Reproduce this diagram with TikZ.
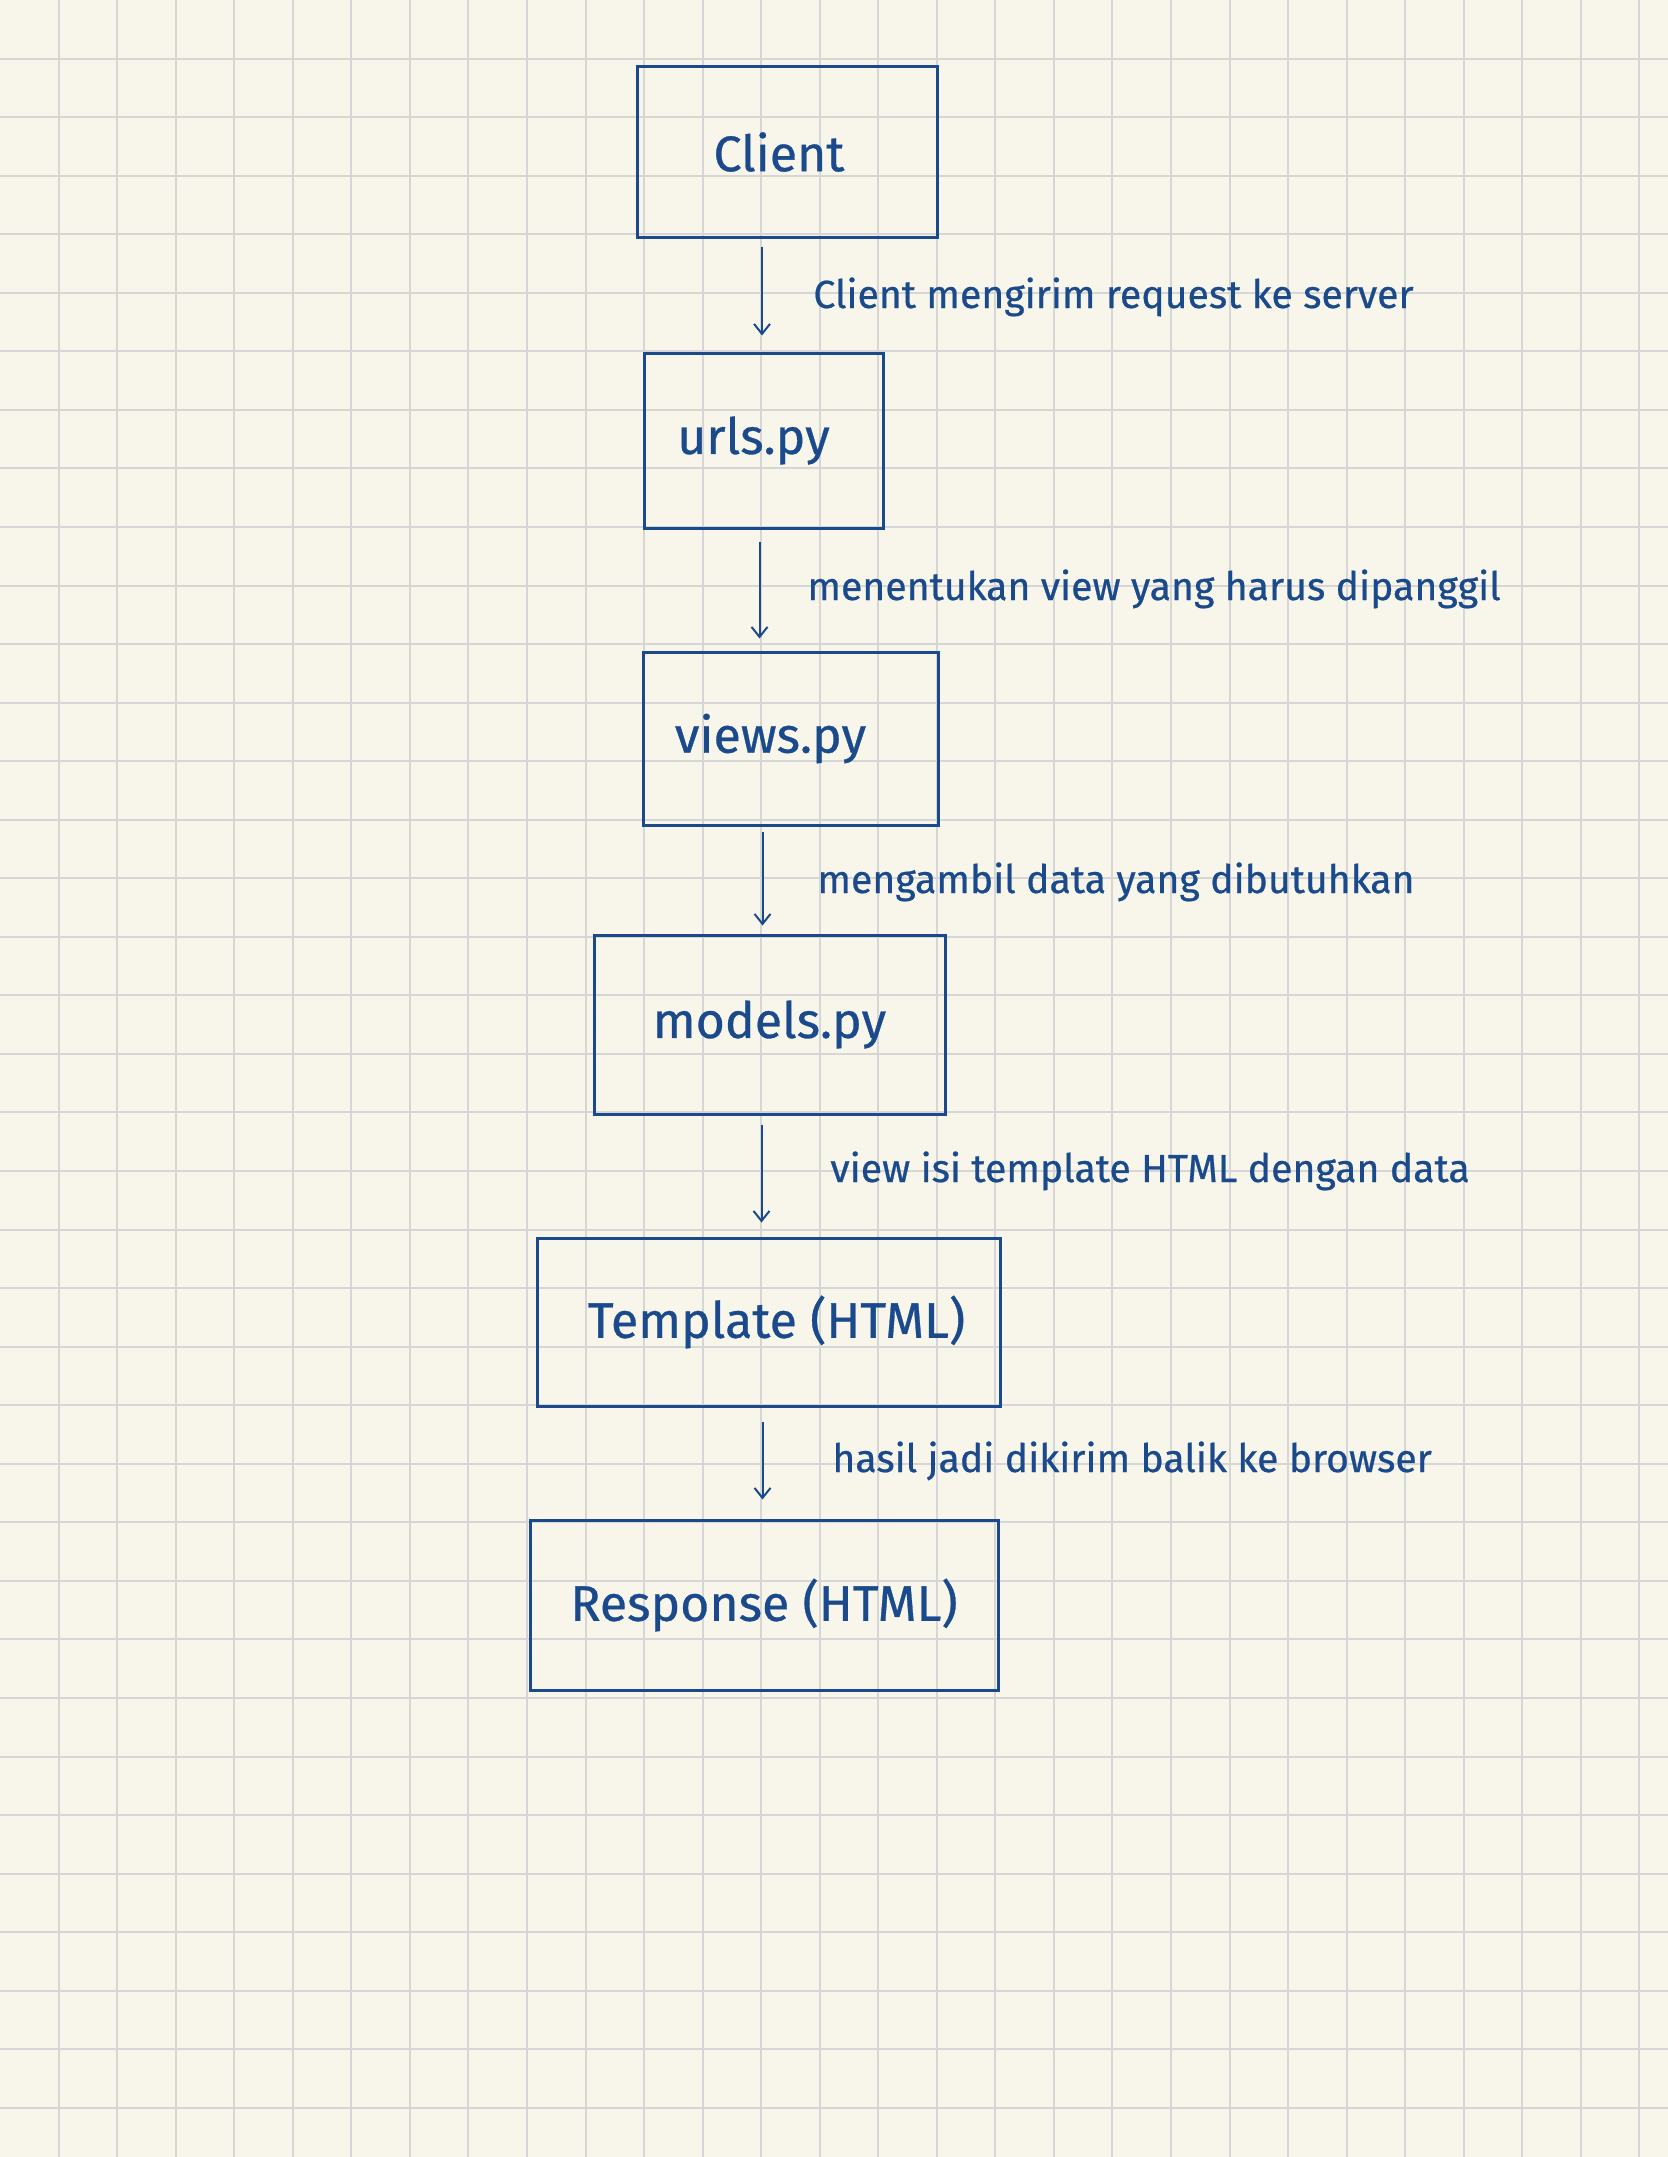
\documentclass[tikz,border=0pt]{standalone}
\usepackage{fontspec}
\setmainfont{Fira Sans}[FakeBold=0.6]
\usetikzlibrary{arrows.meta}
\definecolor{paper}{HTML}{F8F6EB}
\definecolor{gridc}{HTML}{D6D6D6}
\definecolor{ink}{HTML}{1A4A8C}
\tikzset{
  gridline/.style={draw=gridc, line width=1pt},
  flowbox/.style={draw=ink, line width=1.5pt, rectangle, inner sep=0pt, text=ink, font=\fontsize{25}{28}\selectfont},
  flowarrow/.style={draw=ink, line width=1pt, -{Straight Barb[length=5pt,width=8pt,line width=1pt]}},
  steplabel/.style={text=ink, anchor=base west, inner sep=0pt, font=\fontsize{19.6}{22}\selectfont}
}
\begin{document}
\begin{tikzpicture}[x=0.5pt,y=-0.5pt]
\useasboundingbox (0,0) rectangle (1668,2157);
\fill[paper] (0,0) rectangle (1668,2157);
\foreach \i in {1,...,28} \draw[gridline] (\i*58.55,0) -- (\i*58.55,2157);
\foreach \j in {1,...,36} \draw[gridline] (0,\j*58.55) -- (1668,\j*58.55);

\node[flowbox, minimum width=150pt, minimum height=85pt] (client) at (787,152) {Client\hspace*{8pt}};
\node[flowbox, minimum width=119.5pt, minimum height=87.5pt] (urls) at (763.5,440.5) {urls.py\hspace*{10pt}};
\node[flowbox, minimum width=147.5pt, minimum height=86.5pt] (views) at (790.5,738.5) {views.py\hspace*{20pt}};
\node[flowbox, minimum width=175.5pt, minimum height=89.5pt] (models) at (769.5,1024.5) {models.py};
\node[flowbox, minimum width=231.5pt, minimum height=84pt] (template) at (768.5,1322) {\hspace*{8pt}Template (HTML)};
\node[flowbox, minimum width=234pt, minimum height=85pt] (response) at (764,1605) {Response (HTML)};

\draw[flowarrow, shorten <=4pt, shorten >=8pt] ([xshift=-12.5pt]client.south) -- ([xshift=-12.5pt]client.south |- urls.north);
\draw[flowarrow, shorten <=6pt, shorten >=6pt] ([xshift=-2pt]urls.south) -- ([xshift=-2pt]urls.south |- views.north);
\draw[flowarrow, shorten <=2.5pt, shorten >=4pt] ([xshift=-14pt]views.south) -- ([xshift=-14pt]views.south |- models.north);
\draw[flowarrow, shorten <=4.5pt, shorten >=7pt] ([xshift=-4pt]models.south) -- ([xshift=-4pt]models.south |- template.north);
\draw[flowarrow, shorten <=7pt, shorten >=9.5pt] ([xshift=-3pt]template.south) -- ([xshift=-3pt]template.south |- response.north);

\node[steplabel] (l1) at (813,308) {Client mengirim request ke server};
\node[steplabel] (l2) at (807,600) {menentukan view yang harus dipanggil};
\node[steplabel] (l3) at (817,893) {mengambil data yang dibutuhkan};
\node[steplabel] (l4) at (830,1182) {view isi template HTML dengan data};
\node[steplabel] (l5) at (832,1472) {hasil jadi dikirim balik ke browser};
\end{tikzpicture}
\end{document}
